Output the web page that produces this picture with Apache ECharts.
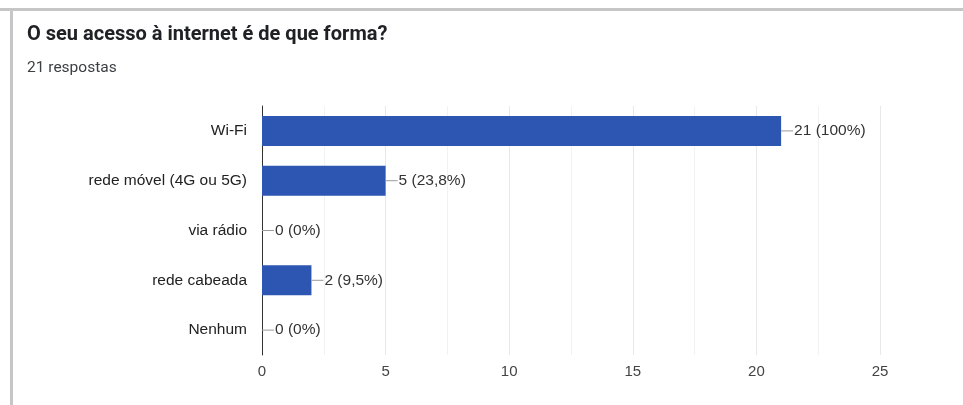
<!DOCTYPE html>
<html>
<head>
<meta charset="utf-8">
<script src="https://cdn.jsdelivr.net/npm/echarts@6/dist/echarts.min.js"></script>
<style>
  html, body { margin: 0; padding: 0; background: #fff; }
  #chart { width: 963px; height: 405px; }
</style>
</head>
<body>
<div id="chart"></div>
<script>
const categories = ['Wi-Fi', 'rede móvel (4G ou 5G)', 'via rádio', 'rede cabeada', 'Nenhum'];
const values = [21, 5, 0, 2, 0];
const percentLabels = ['100%', '23,8%', '0%', '9,5%', '0%'];
const xTicks = [0, 5, 10, 15, 20, 25];

const chart = echarts.init(document.getElementById('chart'));

chart.setOption({
  animation: false,
  backgroundColor: '#ffffff',
  graphic: [
    { type: 'rect', shape: { x: 0, y: 8, width: 963, height: 3 }, style: { fill: '#c6c6c6' }, silent: true },
    { type: 'rect', shape: { x: 10, y: 8, width: 3, height: 397 }, style: { fill: '#c6c6c6' }, silent: true }
  ],
  title: {
    text: 'O seu acesso à internet é de que forma?',
    subtext: '21 respostas',
    left: 22,
    top: 20,
    itemGap: 15,
    textStyle: { fontFamily: 'Roboto', fontSize: 20, fontWeight: 'bold', color: '#202124' },
    subtextStyle: { fontFamily: 'Roboto', fontSize: 15.5, color: '#3c4043' }
  },
  grid: { left: 262, right: 83, top: 106, bottom: 50, containLabel: false },
  xAxis: {
    type: 'value',
    min: 0,
    max: 25,
    interval: 5,
    axisLine: { show: false },
    axisTick: { show: false },
    axisLabel: {
      margin: 9,
      fontFamily: 'Liberation Sans',
      fontSize: 15,
      color: '#444444',
      formatter: v => (xTicks.includes(v) ? String(v) : '')
    },
    splitLine: { show: true, lineStyle: { color: '#e8e8e8', width: 1 } },
    minorTick: { show: false, splitNumber: 2 },
    minorSplitLine: { show: true, lineStyle: { color: '#f2f2f2', width: 1 } }
  },
  yAxis: {
    type: 'category',
    data: categories,
    inverse: true,
    axisLine: { show: true, lineStyle: { color: '#333333', width: 1 } },
    axisTick: { show: false },
    axisLabel: { margin: 15, fontFamily: 'Liberation Sans', fontSize: 15.5, color: '#222222' }
  },
  series: [{
    type: 'bar',
    data: values,
    barWidth: 30,
    itemStyle: { color: '#2c56b1' },
    label: {
      show: true,
      position: 'right',
      distance: 0,
      formatter: p => '{l|}{v|' + p.value + ' (' + percentLabels[p.dataIndex] + ')}',
      rich: {
        l: { width: 12, height: 1, backgroundColor: '#9a9a9a' },
        v: { fontFamily: 'Liberation Sans', fontSize: 15.5, color: '#333333', padding: [0, 0, 0, 1] }
      }
    }
  }]
});
</script>
</body>
</html>
